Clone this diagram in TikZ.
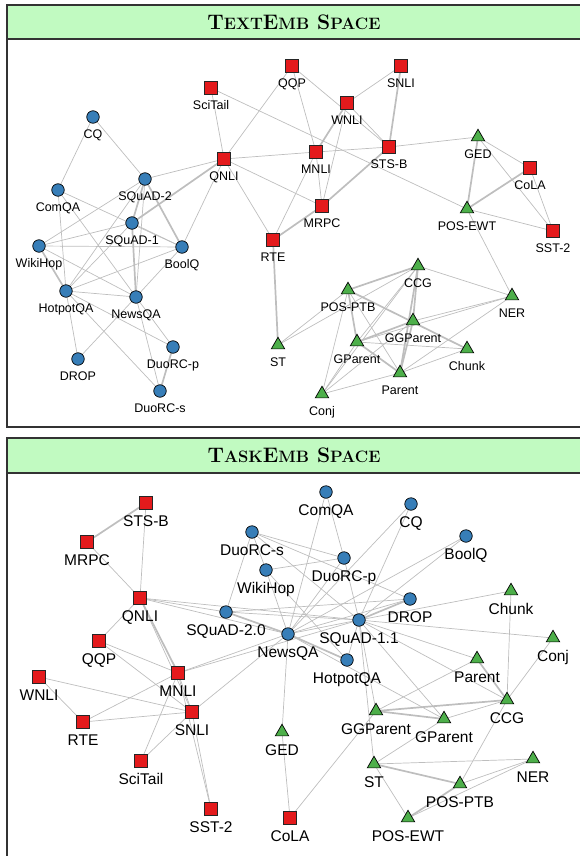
\documentclass[tikz,border=0pt]{standalone}
\usepackage{fontspec}
\setsansfont{Liberation Sans}
\usetikzlibrary{positioning,shapes.geometric,backgrounds}

\definecolor{barGreen}{RGB}{193,250,193}
\definecolor{clsRed}{RGB}{228,26,28}
\definecolor{qaBlue}{RGB}{55,126,184}
\definecolor{seqGreen}{RGB}{77,175,74}
\definecolor{edgeGray}{RGB}{190,190,190}

\newcommand\smcap[1]{{\fontsize{16.5}{18}\selectfont #1}}
\newcommand\lblTop{\sffamily\fontsize{12.5}{14}\selectfont}
\newcommand\lblBot{\sffamily\fontsize{15.5}{17}\selectfont}

\tikzset{%
  frame/.style={draw=black!80,line width=1.2pt},
  title/.style={font=\bfseries\fontsize{21}{23}\selectfont,inner sep=0pt},
  qa task/.style={circle,draw=black,fill=qaBlue,minimum size=12.5pt,
    inner sep=0pt,line width=0.7pt},
  cls task/.style={rectangle,draw=black!85,fill=clsRed,minimum size=13pt,
    inner sep=0pt,line width=0.7pt},
  seq task/.style={regular polygon,regular polygon sides=3,draw=black,
    fill=seqGreen,minimum size=15.5pt,inner sep=0pt,line width=0.7pt},
  lbl/.style={inner sep=0pt,text height=9pt,text depth=0pt,anchor=center},
  link/.style={edgeGray,line width=0.7pt},
  heavy link/.style={edgeGray,line width=1.7pt}
}

\begin{document}
\begin{tikzpicture}[x=1pt,y=-1pt]
  \useasboundingbox (0,0) rectangle (579,856);

  %% panel frames
  \draw[frame] (7,5) rectangle (585,427);
  \draw[frame,fill=barGreen] (7,5) rectangle (585,39);
  \node[title] (a-title) at (294,22) {T\smcap{EXT}E\smcap{MB} S\smcap{PACE}};
  \draw[frame] (7,438) rectangle (585,862);
  \draw[frame,fill=barGreen] (7,438) rectangle (585,473);
  \node[title] (b-title) at (294,455) {T\smcap{ASK}E\smcap{MB} S\smcap{PACE}};

  %% TextEmb space
  \begin{scope}[lbl/.append style={font=\lblTop,yshift=-17pt}]
    \foreach \nm/\x/\y in {CQ/93/117, ComQA/58/190, SQuAD-2/145/179,
        SQuAD-1/132/223, WikiHop/39/246, BoolQ/182/247, HotpotQA/66/291,
        NewsQA/136/297, DuoRC-p/173/347, DROP/78/359, DuoRC-s/160/391}
      \node[qa task] (a-\nm) at (\x,\y) {};
    \foreach \nm/\x/\y in {SciTail/211/88, QQP/292/66, SNLI/401/66,
        WNLI/347/103, QNLI/224/159, MNLI/316/152, STS-B/389/147,
        MRPC/322/206, RTE/273/240, CoLA/530/168, SST-2/553/231}
      \node[cls task] (a-\nm) at (\x,\y) {};
    \foreach \nm/\x/\y in {GED/478/137, POS-EWT/467/209, ST/278/345,
        CCG/418/266, POS-PTB/348/290, NER/512/296, GGParent/413/321,
        GParent/357/342, Chunk/467/349, Parent/400/373, Conj/322/394}
      \node[seq task] (a-\nm) at (\x,\y) {};
    \foreach \nm in {CQ,ComQA,SQuAD-2,SQuAD-1,WikiHop,BoolQ,HotpotQA,NewsQA,
        DuoRC-p,DROP,DuoRC-s,SciTail,QQP,SNLI,WNLI,QNLI,MNLI,STS-B,MRPC,
        RTE,CoLA,SST-2,GED,POS-EWT,ST,CCG,POS-PTB,NER,GGParent,GParent,
        Chunk,Parent,Conj}
      \node[lbl] (a-\nm-l) at (a-\nm.center) {\nm};

    \begin{scope}[on background layer]
      \foreach \u/\v in {CQ/ComQA, CQ/SQuAD-2, ComQA/HotpotQA, ComQA/BoolQ,
          ComQA/NewsQA, SQuAD-2/NewsQA, SQuAD-2/HotpotQA, SQuAD-2/WikiHop,
          SQuAD-2/QNLI, SQuAD-1/WikiHop, SQuAD-1/HotpotQA, SQuAD-1/BoolQ,
          WikiHop/BoolQ, WikiHop/NewsQA, HotpotQA/BoolQ, HotpotQA/NewsQA,
          HotpotQA/DROP, HotpotQA/DuoRC-p, HotpotQA/DuoRC-s, NewsQA/BoolQ,
          NewsQA/DuoRC-s, NewsQA/DuoRC-p, NewsQA/DROP, QNLI/BoolQ, QNLI/RTE,
          QNLI/MRPC, QNLI/MNLI, QNLI/QQP, SciTail/QNLI, SciTail/POS-EWT,
          QQP/MNLI, QQP/STS-B, SNLI/WNLI, WNLI/MRPC, WNLI/STS-B, MNLI/MRPC,
          MNLI/RTE, MNLI/STS-B, STS-B/GED, GED/CoLA, GED/SST-2, CoLA/SST-2,
          POS-EWT/SST-2, POS-EWT/NER, ST/POS-PTB, ST/CCG, CCG/NER,
          CCG/GParent, CCG/Conj, POS-PTB/Parent, POS-PTB/Conj,
          GGParent/NER, GGParent/Conj, GParent/Chunk, GParent/NER,
          GParent/Conj, Parent/Chunk, Parent/NER, Parent/Conj}
        \draw[link] (a-\u.center) -- (a-\v.center);
      \foreach \u/\v in {SQuAD-2/SQuAD-1, SQuAD-2/BoolQ, WikiHop/HotpotQA,
          SQuAD-1/NewsQA, QNLI/SQuAD-1, DuoRC-p/DuoRC-s, WNLI/MNLI,
          SNLI/STS-B, RTE/MRPC, MRPC/STS-B, RTE/ST, GED/POS-EWT,
          CoLA/POS-EWT, CCG/POS-PTB, CCG/GGParent, CCG/Parent,
          POS-PTB/GParent, POS-PTB/Chunk, GGParent/GParent,
          GGParent/Parent, GParent/Parent}
        \draw[heavy link] (a-\u.center) -- (a-\v.center);
    \end{scope}
  \end{scope}

  %% TaskEmb space
  \begin{scope}[lbl/.append style={font=\lblBot,yshift=-19pt}]
    \foreach \nm/\txt/\x/\y in {ComQA/ComQA/326/492, CQ/CQ/411/504,
        BoolQ/BoolQ/466/536, DuoRC-s/DuoRC-s/252/532,
        DuoRC-p/DuoRC-p/344/558, WikiHop/WikiHop/266/570,
        SQuADii/SQuAD-2.0/226/612, DROP/DROP/410/599,
        SQuADi/SQuAD-1.1/359/620, NewsQA/NewsQA/288/634,
        HotpotQA/HotpotQA/347/660}
      {\node[qa task] (b-\nm) at (\x,\y) {};
       \node[lbl] (b-\nm-l) at (b-\nm.center) {\txt};}
    \foreach \nm/\x/\y in {STS-B/146/503, MRPC/87/542, QNLI/140/598,
        QQP/99/641, WNLI/39/677, MNLI/178/673, SNLI/192/712, RTE/83/722,
        SciTail/141/761, SST-2/211/809, CoLA/290/818}
      {\node[cls task] (b-\nm) at (\x,\y) {};
       \node[lbl] (b-\nm-l) at (b-\nm.center) {\nm};}
    \foreach \nm/\x/\y in {Chunk/511/591, Conj/553/638, Parent/477/659,
        CCG/507/700, GGParent/376/711, GParent/444/719, GED/282/732,
        ST/374/764, NER/533/759, POS-PTB/460/784, POS-EWT/408/818}
      {\node[seq task] (b-\nm) at (\x,\y) {};
       \node[lbl] (b-\nm-l) at (b-\nm.center) {\nm};}

    \begin{scope}[on background layer]
      \foreach \u/\v in {STS-B/QNLI, MRPC/QNLI, QNLI/QQP, QNLI/SQuADii,
          QNLI/NewsQA, QNLI/SQuADi, QNLI/SNLI, QQP/MNLI, QQP/SNLI,
          MNLI/SNLI, MNLI/RTE, MNLI/SciTail, MNLI/SST-2, MNLI/NewsQA,
          MNLI/SQuADi, WNLI/SNLI, WNLI/RTE, RTE/SNLI, SNLI/SciTail,
          SNLI/SST-2, SNLI/NewsQA, GED/CoLA, CoLA/GGParent, ComQA/NewsQA,
          ComQA/DuoRC-p, CQ/NewsQA, CQ/SQuADi, BoolQ/NewsQA, BoolQ/SQuADi,
          DuoRC-s/SQuADii, DuoRC-s/WikiHop, DuoRC-s/DuoRC-p,
          DuoRC-s/SQuADi, DuoRC-s/DROP, WikiHop/DuoRC-p, WikiHop/NewsQA,
          WikiHop/HotpotQA, DuoRC-p/SQuADi, DuoRC-p/NewsQA, SQuADii/SQuADi,
          SQuADii/DROP, NewsQA/SQuADi, NewsQA/DROP, SQuADi/HotpotQA,
          SQuADi/Chunk, SQuADi/Conj, SQuADi/Parent, SQuADi/CCG,
          SQuADi/GParent, SQuADi/ST, SQuADi/GGParent, NewsQA/GED,
          NewsQA/GParent, Chunk/CCG, Conj/CCG, Parent/GGParent,
          CCG/GParent, CCG/POS-PTB, ST/GParent, ST/NER, ST/POS-EWT,
          NER/POS-EWT, POS-PTB/NER}
        \draw[link] (b-\u.center) -- (b-\v.center);
      \foreach \u/\v in {STS-B/MRPC, SQuADii/NewsQA, NewsQA/HotpotQA,
          SQuADi/DROP, Parent/CCG, CCG/GGParent, GGParent/GParent,
          ST/POS-PTB, POS-PTB/POS-EWT, QNLI/MNLI}
        \draw[heavy link] (b-\u.center) -- (b-\v.center);
    \end{scope}
  \end{scope}
\end{tikzpicture}
\end{document}
